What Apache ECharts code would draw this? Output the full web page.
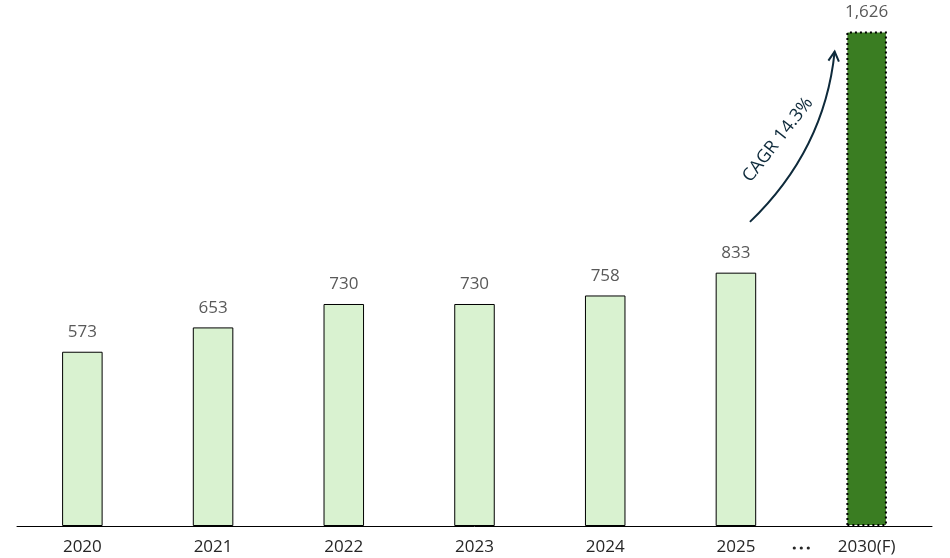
<!DOCTYPE html>
<html lang="en">
<head>
    <meta charset="UTF-8">
    <title>Market size</title>
    <script src="https://cdn.jsdelivr.net/npm/echarts@6.0.0/dist/echarts.min.js"></script>
    <style>
        html, body { margin: 0; padding: 0; background: #fff; }
    </style>
</head>
<body>
    <div id="chart" style="width: 950px; height: 558px;"></div>

    <script>
        // data
        const years = ['2020', '2021', '2022', '2023', '2024', '2025', '2030(F)'];
        const values = [573, 653, 730, 730, 758, 833, 1626];
        const cagrText = 'CAGR 14.3%';

        const font = '"Open Sans", "Noto Sans", sans-serif';

        const chart = echarts.init(document.getElementById('chart'));

        const barData = values.map((v, i) => {
            if (i === values.length - 1) {
                return {
                    value: v,
                    itemStyle: { color: '#3a7d22', borderColor: '#000', borderWidth: 2, borderType: [2, 3] }
                };
            }
            return v;
        });

        chart.setOption({
            animation: false,
            grid: { left: 17, right: 18, top: 9, bottom: 32 },
            xAxis: {
                type: 'category',
                data: years,
                axisLine: { lineStyle: { color: '#000', width: 1 } },
                axisTick: { show: false },
                axisLabel: { color: '#262626', fontSize: 17, fontFamily: font, margin: 13 }
            },
            yAxis: {
                type: 'value',
                min: 0,
                max: 1700,
                show: false,
                splitLine: { show: false }
            },
            series: [{
                type: 'bar',
                data: barData,
                barWidth: '31%',
                itemStyle: { color: '#d9f2d0', borderColor: '#000', borderWidth: 1 },
                label: {
                    show: true,
                    position: 'top',
                    distance: 11,
                    color: '#595959',
                    fontSize: 17,
                    fontFamily: font,
                    formatter: p => p.value.toLocaleString('en-US')
                }
            }]
        });

        // annotations: "..." between the last two categories and the CAGR arrow
        const n = years.length;
        const p5 = chart.convertToPixel({ seriesIndex: 0 }, [n - 2, 1000]);
        const p6 = chart.convertToPixel({ seriesIndex: 0 }, [n - 1, 1560]);
        const base = chart.convertToPixel({ seriesIndex: 0 }, [n - 1, 0]);

        const x1 = p5[0] + 14, y1 = p5[1];
        const x2 = p6[0] - 32, y2 = p6[1];
        const cx = x2 - 10, cy = y1 - 72;

        // arrow head direction from control point to end
        const ang = Math.atan2(y2 - cy, x2 - cx);
        const hl = 11, ha = 0.5;

        const dots = [-7, 0, 7].map(dx => ({
            type: 'circle',
            shape: { cx: (p5[0] + p6[0]) / 2 + dx, cy: base[1] + 22, r: 1.6 },
            style: { fill: '#262626' }
        }));

        chart.setOption({
            graphic: dots.concat([
                {
                    type: 'bezierCurve',
                    shape: { x1: x1, y1: y1, x2: x2, y2: y2, cpx1: cx, cpy1: cy },
                    style: { stroke: '#0e2a3b', lineWidth: 2, fill: null }
                },
                {
                    type: 'polyline',
                    shape: {
                        points: [
                            [x2 - hl * Math.cos(ang - ha), y2 - hl * Math.sin(ang - ha)],
                            [x2, y2],
                            [x2 - hl * Math.cos(ang + ha), y2 - hl * Math.sin(ang + ha)]
                        ]
                    },
                    style: { stroke: '#0e2a3b', lineWidth: 2, fill: null }
                },
                {
                    type: 'text',
                    x: x1 + 28,
                    y: (y1 + y2) / 2 + 3,
                    rotation: Math.PI * 52 / 180,
                    style: { text: cagrText, fill: '#0e2a3b', font: '18px ' + font, align: 'center', verticalAlign: 'middle' }
                }
            ])
        });
    </script>
</body>
</html>
